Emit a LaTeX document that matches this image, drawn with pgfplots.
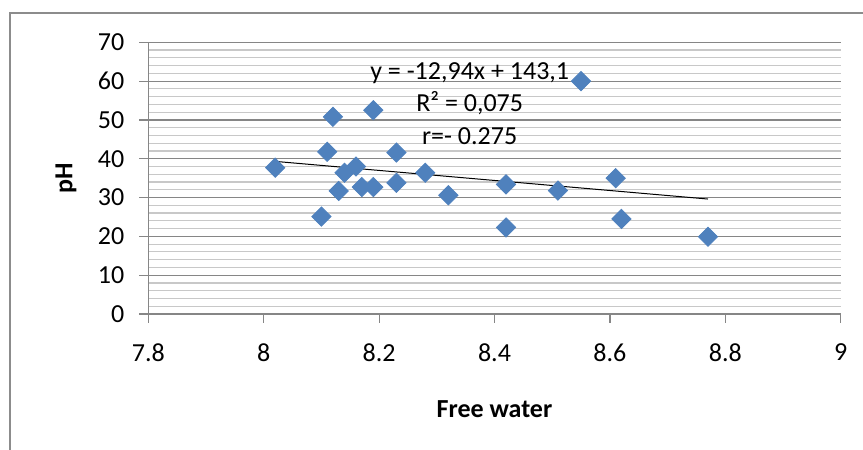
\documentclass[border=0pt]{standalone}
\usepackage{pgfplots}
\pgfplotsset{compat=1.18}
\usepackage{pgfplotstable}
\usepackage{fontspec}
\setmainfont{Carlito}
\definecolor{xlblue}{HTML}{4F81BD}
\definecolor{axgray}{HTML}{868686}
\definecolor{mingray}{HTML}{C8C8C8}
\definecolor{framegray}{HTML}{8C8C8C}

% Free water vs pH
\pgfplotstableread{
x y
8.02 37.7
8.10 25.1
8.12 50.8
8.11 41.8
8.13 31.7
8.14 36.4
8.16 38.0
8.17 32.7
8.19 32.7
8.19 52.5
8.23 41.6
8.23 33.8
8.28 36.4
8.32 30.6
8.42 33.4
8.42 22.3
8.51 31.8
8.55 60.0
8.61 35.0
8.62 24.5
8.77 19.9
}\phdata

\begin{document}
\begin{tikzpicture}
% 1 px of the 863x450 reference = 0.5pt
\path[use as bounding box] (0pt,0pt) rectangle (431.5pt,225pt);
\draw[framegray, line width=1pt] (5pt,-3pt) -- (5pt,218.65pt) -- (435pt,218.65pt);
\begin{axis}[
    at={(74.15pt,68pt)}, anchor=south west,
    scale only axis, width=346.2pt, height=135.85pt,
    xmin=7.8, xmax=9, ymin=0, ymax=70,
    xtick={7.8,8,8.2,8.4,8.6,8.8,9},
    ytick={0,10,...,70},
    minor y tick num=4,
    axis lines*=left,
    axis line style={axgray, line width=0.6pt},
    tick style={axgray, line width=0.6pt},
    tick align=outside,
    major tick length=4.5pt,
    minor tick length=0pt,
    ymajorgrids, yminorgrids,
    major grid style={axgray, line width=0.6pt},
    minor grid style={mingray, line width=0.6pt},
    /pgf/number format/assume math mode=true,
    tick label style={font=\fontsize{13}{15}\selectfont},
    xticklabel style={yshift=-7pt},
    yticklabel style={xshift=-4pt},
    xlabel={Free water}, ylabel={pH},
    label style={font=\fontsize{13}{15}\selectfont\bfseries},
    xlabel style={at={(rel axis cs:0.5,-0.3497)}, anchor=center},
    ylabel style={at={(rel axis cs:-0.1189,0.5)}, anchor=center},
]
\addplot[only marks, mark=square*, mark size=3.4pt,
    mark options={rotate=45, fill=xlblue, draw=xlblue}] table[x=x, y=y] {\phdata};
\addplot[black, line width=0.5pt] coordinates {(8.02,39.32) (8.77,29.62)};
\node[font=\fontsize{13}{15}\selectfont] at (axis cs:8.357,61.98) {y = -12,94x + 143,1};
\node[font=\fontsize{13}{15}\selectfont] at (axis cs:8.357,54.38) {R² = 0,075};
\node[font=\fontsize{13}{15}\selectfont] at (axis cs:8.357,45.7) {r=- 0.275};
\end{axis}
\end{tikzpicture}
\end{document}
